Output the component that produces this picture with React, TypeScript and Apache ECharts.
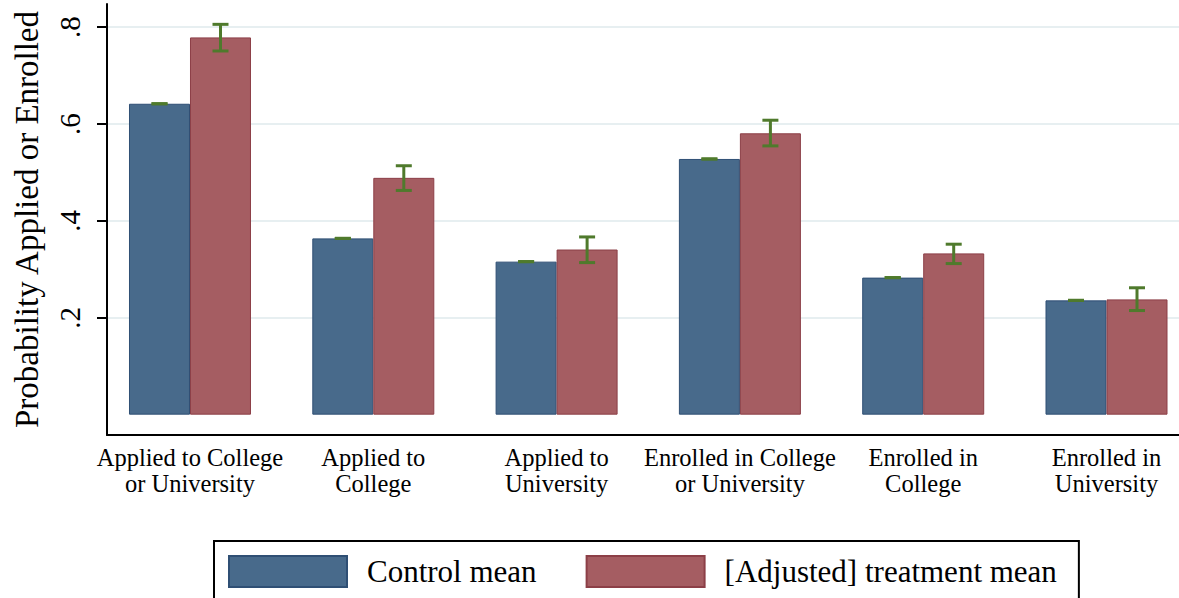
import React, { useEffect, useRef } from "react";
import * as echarts from "echarts";

// Outcome groups along the x axis
const CATEGORIES = [
  "Applied to College\nor University",
  "Applied to\nCollege",
  "Applied to\nUniversity",
  "Enrolled in College\nor University",
  "Enrolled in\nCollege",
  "Enrolled in\nUniversity",
];

// Control group means (no interval shown)
const CONTROL_MEAN = [0.642, 0.364, 0.316, 0.528, 0.283, 0.236];

// Adjusted treatment means with confidence bounds
const TREAT_MEAN = [0.779, 0.489, 0.341, 0.581, 0.333, 0.238];
const TREAT_LO = [0.751, 0.463, 0.314, 0.555, 0.312, 0.215];
const TREAT_HI = [0.806, 0.514, 0.367, 0.608, 0.352, 0.262];

const Y_TICKS = [0.2, 0.4, 0.6, 0.8];

const SERIF = '"Liberation Serif", "Times New Roman", Times, serif';
const BLUE = "#486a8b";
const RED = "#a55d62";
const GREEN = "#4f7a2c";
const BAR_W = 61;

export default function App() {
  const ref = useRef<HTMLDivElement>(null);

  useEffect(() => {
    if (!ref.current) return;
    const chart = echarts.init(ref.current, null, { renderer: "svg" });

    const errorBar = (side: number) => (params: any, api: any) => {
      const x = api.value(0);
      const pLo = api.coord([x, api.value(1)]);
      const pHi = api.coord([x, api.value(2)]);
      const cx = pLo[0] + (side * BAR_W) / 2;
      const cap = 8;
      const style = { stroke: GREEN, lineWidth: 3 };
      return {
        type: "group",
        children: [
          { type: "line", shape: { x1: cx, y1: pHi[1], x2: cx, y2: pLo[1] }, style },
          { type: "line", shape: { x1: cx - cap, y1: pHi[1], x2: cx + cap, y2: pHi[1] }, style },
          { type: "line", shape: { x1: cx - cap, y1: pLo[1], x2: cx + cap, y2: pLo[1] }, style },
        ],
      };
    };

    chart.setOption({
      animation: false,
      backgroundColor: "#ffffff",
      textStyle: { fontFamily: SERIF, color: "#000" },
      grid: { left: 107, right: 0, top: 4, bottom: 163, containLabel: false },
      legend: {
        left: 214,
        top: 541,
        orient: "horizontal",
        borderColor: "#000",
        borderWidth: 2,
        borderRadius: 0,
        padding: [14, 22, 24, 14],
        itemWidth: 118,
        itemHeight: 31,
        itemGap: 49,
        icon: "rect",
        textStyle: {
          fontFamily: SERIF,
          fontSize: 31,
          color: "#000",
          padding: [0, 0, 0, 15],
        },
        data: ["Control mean", "[Adjusted] treatment mean"],
      },
      xAxis: {
        type: "value",
        min: -0.4528,
        max: 5.3955,
        splitLine: { show: false },
        axisTick: { show: false },
        axisLine: { show: true, onZero: false, lineStyle: { color: "#000", width: 2 } },
        axisLabel: {
          customValues: CATEGORIES.map((_, i) => i),
          formatter: (v: number) => CATEGORIES[Math.round(v)] ?? "",
          fontFamily: SERIF,
          fontSize: 24.5,
          lineHeight: 26,
          color: "#000",
          margin: 9,
        },
      },
      yAxis: {
        type: "value",
        min: -0.042,
        max: 0.848,
        name: "Probability Applied or Enrolled",
        nameLocation: "middle",
        nameRotate: 90,
        nameGap: 64,
        nameTextStyle: { fontFamily: SERIF, fontSize: 33, color: "#000" },
        axisLine: { show: true, onZero: false, lineStyle: { color: "#000", width: 2 } },
        axisTick: {
          show: true,
          length: 10,
          customValues: Y_TICKS,
          lineStyle: { color: "#000", width: 2 },
        },
        axisLabel: {
          customValues: Y_TICKS,
          rotate: 90,
          formatter: (v: number) => String(v).replace(/^0/, ""),
          fontFamily: SERIF,
          fontSize: 29,
          color: "#000",
          margin: 23,
        },
        splitLine: { show: true, lineStyle: { color: "#e7eff1", width: 2 } },
      },
      series: [
        {
          name: "Control mean",
          type: "bar",
          barWidth: BAR_W,
          barGap: "0%",
          itemStyle: { color: BLUE, borderColor: "#2f4f74", borderWidth: 1 },
          data: CONTROL_MEAN.map((v, i) => [i, v]),
          z: 2,
        },
        {
          name: "[Adjusted] treatment mean",
          type: "bar",
          barWidth: BAR_W,
          barGap: "0%",
          itemStyle: { color: RED, borderColor: "#8c3f47", borderWidth: 1 },
          data: TREAT_MEAN.map((v, i) => [i, v]),
          z: 2,
        },
        {
          name: "control-ci",
          type: "custom",
          renderItem: errorBar(-1),
          data: CONTROL_MEAN.map((v, i) => [i, v, v]),
          z: 5,
        },
        {
          name: "treat-ci",
          type: "custom",
          renderItem: errorBar(1),
          data: TREAT_MEAN.map((_, i) => [i, TREAT_LO[i], TREAT_HI[i]]),
          z: 5,
        },
      ],
    });

    return () => chart.dispose();
  }, []);

  return (
    <div
      ref={ref}
      style={{ position: "fixed", left: 0, top: 0, width: 1179, height: 598, background: "#fff" }}
    />
  );
}
